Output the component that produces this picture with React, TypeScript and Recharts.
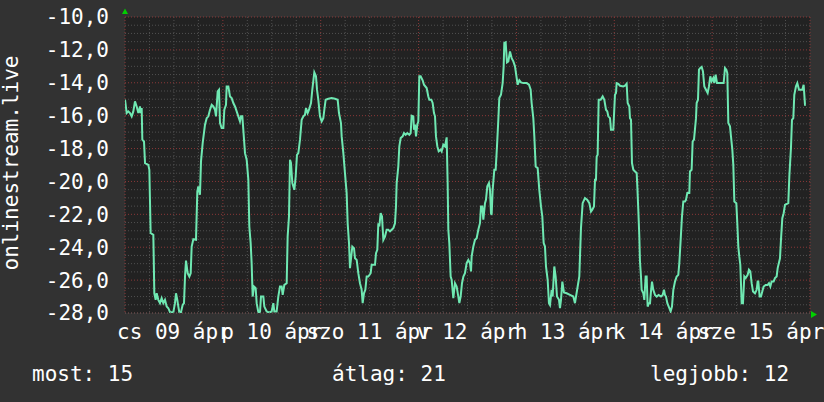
import React from 'react';
import { LineChart, Line, XAxis, YAxis, CartesianGrid } from 'recharts';

// time (hours since cs 09 ápr 00:00) and value
const seg1: [number, number][] = [
  [0.0, -15.03], [0.41, -15.84], [0.82, -15.74], [1.23, -15.84], [1.64, -16.04], [2.04, -15.74], [2.45, -15.13], [2.86, -15.44],
  [3.27, -15.84], [3.68, -15.44], [3.84, -15.84], [4.09, -15.54], [4.25, -17.46], [4.66, -17.57], [4.91, -18.88], [5.72, -18.99],
  [5.97, -19.29], [6.29, -23.14], [6.95, -23.25], [7.19, -26.8], [7.52, -27.2], [7.77, -26.8], [8.17, -27.2], [8.58, -27.4],
  [8.99, -27.1], [9.4, -27.4], [9.81, -27.2], [10.22, -27.61], [10.63, -27.71], [11.04, -27.95], [11.85, -27.95], [12.26, -27.4],
  [12.51, -26.8], [12.83, -27.2], [13.08, -27.61], [13.32, -27.95], [13.73, -27.95], [14.14, -27.51], [14.47, -27.4], [14.72, -25.78],
  [14.96, -24.81], [15.37, -25.58], [15.78, -25.78], [16.11, -25.58], [16.35, -23.96], [16.76, -23.51], [17.41, -23.55], [17.74, -20.61],
  [17.98, -20.3], [18.39, -20.81], [18.64, -18.78], [19.05, -17.67], [19.62, -16.55], [20.03, -16.15], [20.44, -16.04], [20.85, -15.64],
  [21.26, -15.34], [21.66, -15.44], [22.07, -15.64], [22.32, -16.04], [22.73, -14.52], [23.05, -14.42], [23.3, -16.45], [23.71, -16.75],
  [24.12, -16.75], [24.36, -15.64], [24.77, -15.34], [24.93, -14.22], [25.34, -14.22], [25.75, -14.83], [26.16, -14.93], [26.57, -15.23],
];
const seg2: [number, number][] = [
  [26.98, -15.44], [27.39, -15.74], [27.79, -16.04], [28.2, -16.35], [28.45, -16.04], [28.78, -16.04], [29.02, -16.86], [29.43, -18.28],
  [29.84, -18.68], [30.25, -19.9], [30.49, -22.74], [30.82, -23.75], [31.06, -24.97], [31.31, -27.0], [31.64, -26.39], [32.05, -26.49],
  [32.29, -27.4], [32.7, -27.95], [33.11, -27.95], [33.35, -27.0], [33.93, -27.0], [34.17, -27.61], [34.74, -27.91], [35.15, -27.95],
  [35.56, -27.95], [35.97, -27.91], [36.38, -27.4], [36.62, -27.91], [37.19, -27.91], [37.6, -27.0], [38.01, -26.39], [38.42, -26.39],
  [38.67, -26.9], [39.08, -26.29], [39.65, -26.19], [39.89, -23.35], [40.22, -22.13], [40.47, -18.68], [40.71, -18.88], [41.04, -20.1],
  [41.53, -20.51], [41.86, -19.7], [42.18, -18.38], [42.51, -18.28], [42.92, -17.46], [43.33, -16.25], [43.74, -16.04], [44.14, -15.94],
  [44.39, -15.54], [44.8, -15.84], [45.13, -15.64], [45.62, -15.23], [45.94, -14.42], [46.43, -13.37], [46.84, -13.61], [47.09, -14.42],
  [47.41, -15.03], [47.82, -16.04], [48.23, -16.35], [48.64, -16.15], [48.89, -15.64], [49.21, -15.03], [49.87, -14.97], [50.68, -14.93],
  [51.5, -14.97], [52.16, -15.03], [52.48, -15.84], [52.97, -16.45], [53.14, -17.26], [53.55, -18.28], [53.95, -19.49], [54.36, -20.71],
  [54.61, -22.54], [54.94, -23.75], [55.18, -25.27],
];
const seg3: [number, number][] = [
  [55.75, -23.96], [56.16, -24.06], [56.41, -24.67], [56.82, -24.77], [57.22, -25.58], [57.63, -26.19], [58.04, -26.59], [58.29, -27.4],
  [58.61, -26.8], [58.94, -26.59], [59.27, -25.78], [59.68, -25.78], [60.25, -25.58], [60.49, -25.07], [61.31, -25.07], [61.56, -24.36],
  [61.88, -24.16], [62.13, -22.54], [62.37, -22.74], [62.7, -21.93], [63.03, -22.13], [63.36, -23.55], [63.76, -23.35], [64.17, -22.94],
  [64.58, -22.94], [64.99, -23.04], [65.4, -22.94], [65.81, -22.84], [66.22, -22.54], [66.46, -21.52], [66.63, -20.1], [67.03, -19.09],
  [67.28, -17.87], [67.61, -17.36], [68.1, -17.26], [68.42, -17.06], [68.83, -17.16], [69.24, -17.06], [69.73, -17.16], [70.06, -17.06],
  [70.3, -16.0], [70.71, -16.04], [70.88, -16.86], [71.12, -16.55], [71.37, -17.26], [71.69, -16.55], [71.94, -16.35], [72.18, -13.61],
  [72.51, -13.61], [73.0, -13.85], [73.33, -14.12], [73.98, -14.32], [74.39, -14.83], [74.64, -15.03], [75.13, -15.03], [75.45, -15.23],
  [75.78, -15.84], [76.03, -16.04], [76.27, -17.26], [76.6, -17.87], [76.93, -18.17], [77.42, -18.07], [77.66, -18.17], [78.07, -17.77],
  [78.48, -17.87], [78.89, -17.32], [79.13, -20.1], [79.3, -22.94], [79.54, -23.75], [79.87, -25.78], [80.11, -25.98], [80.52, -27.1],
  [80.93, -26.19], [81.34, -26.39], [81.75, -27.0], [82.0, -27.4], [82.32, -27.0], [82.65, -26.19], [82.99, -25.78], [83.38, -25.58],
];
const seg4: [number, number][] = [
  [83.79, -24.97], [84.2, -24.77], [84.61, -24.97], [84.86, -25.47], [85.02, -24.56], [85.43, -23.96], [85.84, -23.55], [86.25, -23.45],
  [86.65, -22.94], [87.06, -22.54], [87.31, -21.52], [87.63, -21.52], [87.88, -22.33], [88.29, -21.32], [88.53, -21.12], [88.86, -20.3],
  [89.27, -20.1], [89.52, -20.51], [89.76, -21.93], [89.92, -22.03], [90.17, -20.51], [90.58, -19.29], [90.91, -19.29], [91.23, -17.87],
  [91.56, -16.25], [91.8, -14.93], [92.21, -14.73], [92.62, -14.02], [92.87, -13.0], [93.03, -11.58], [93.36, -11.54], [93.68, -12.76],
  [94.01, -12.7], [94.42, -12.09], [94.83, -12.5], [95.24, -12.7], [95.65, -13.0], [96.06, -13.71], [96.3, -14.12], [96.71, -13.85],
  [97.12, -13.98], [97.69, -14.02], [98.51, -14.02], [99.08, -14.12], [99.49, -14.42], [99.73, -15.23], [100.14, -16.15], [100.39, -17.26],
  [100.72, -19.09], [101.21, -19.19], [101.61, -20.51], [102.02, -21.52], [102.35, -22.13], [102.68, -23.75], [103.0, -23.96], [103.25, -25.17],
  [103.66, -25.98], [103.98, -27.4], [104.23, -27.51], [104.64, -26.59], [104.88, -27.0], [105.29, -25.17], [105.62, -25.78], [105.95, -27.0],
  [106.44, -27.2], [106.68, -27.71], [106.93, -27.2], [107.26, -26.09], [107.66, -26.75], [108.32, -26.8], [109.13, -26.9], [109.95, -27.0],
  [110.36, -27.4], [110.61, -27.0], [111.02, -26.39], [111.42, -25.78],
];
const seg5: [number, number][] = [
  [111.83, -22.84], [112.24, -21.32], [112.81, -21.01], [113.39, -21.12], [113.88, -21.32], [114.29, -21.83], [114.61, -21.72], [115.02, -21.52],
  [115.27, -19.9], [115.51, -19.9], [115.68, -18.48], [115.92, -18.38], [116.17, -15.03], [116.66, -15.03], [117.15, -14.83], [117.56, -15.03],
  [117.96, -15.64], [118.29, -15.74], [118.54, -16.04], [118.95, -16.15], [119.19, -16.86], [119.76, -16.86], [120.17, -14.73], [120.42, -14.62],
  [120.58, -14.02], [120.99, -14.06], [121.4, -14.18], [122.22, -14.22], [122.62, -14.18], [123.03, -14.06], [123.28, -15.23], [123.69, -15.44],
  [123.85, -16.15], [124.1, -16.25], [124.34, -18.88], [124.67, -19.29], [125.08, -19.39], [125.49, -19.49], [125.65, -20.3], [125.89, -21.72],
  [126.14, -23.35], [126.3, -24.87], [126.55, -25.78], [126.71, -26.59], [127.12, -26.8], [127.37, -27.2], [127.69, -25.78], [127.94, -25.78],
  [128.18, -27.61], [128.51, -27.4], [128.76, -27.4], [129.0, -26.69], [129.25, -26.09], [129.57, -26.59], [129.98, -26.9], [130.39, -27.0],
  [130.88, -26.9], [131.45, -27.0], [131.86, -26.9], [132.19, -26.59], [132.43, -26.9], [132.68, -27.0], [133.01, -27.4], [133.5, -27.71],
  [133.82, -27.91], [134.15, -27.61], [134.48, -26.59], [134.89, -26.09], [135.3, -25.78], [135.7, -25.68], [135.95, -24.97], [136.28, -23.55],
  [136.6, -22.13], [136.93, -21.22], [137.34, -21.22], [137.58, -21.12], [137.91, -20.71], [138.4, -20.71], [138.56, -19.39], [138.97, -19.29],
  [139.22, -17.57], [139.55, -17.46],
];
const seg6: [number, number][] = [
  [140.04, -16.15], [140.2, -15.23], [140.53, -15.03], [140.77, -13.2], [141.1, -13.1], [141.43, -13.04], [141.75, -13.31], [142.08, -14.22],
  [142.49, -14.42], [142.9, -14.62], [143.22, -14.22], [143.55, -13.61], [143.88, -13.91], [144.29, -13.71], [144.53, -14.02], [144.86, -13.51],
  [145.19, -14.02], [146.82, -14.02], [147.15, -13.1], [147.48, -13.2], [147.72, -13.41], [147.97, -16.45], [148.38, -16.65], [148.62, -17.26],
  [148.95, -18.07], [149.19, -18.99], [149.44, -21.22], [149.93, -21.32], [150.17, -22.54], [150.42, -23.96], [150.66, -24.56], [150.91, -25.07],
  [151.24, -27.4], [151.56, -27.4], [151.89, -25.78], [152.22, -25.88], [152.71, -25.68], [153.03, -25.37], [153.36, -25.47], [153.69, -26.19],
  [154.02, -26.69], [154.51, -26.8], [154.92, -26.59], [155.16, -26.09], [155.32, -26.09], [155.65, -27.0], [155.98, -27.0], [156.3, -26.69],
  [156.63, -26.39], [157.12, -26.29], [157.61, -26.29], [157.94, -26.19], [158.27, -26.39], [158.59, -26.09], [159.08, -26.09], [159.41, -25.88],
  [159.82, -25.78], [160.07, -25.27], [160.64, -24.67], [160.88, -23.55], [161.21, -22.23], [161.54, -21.93], [161.86, -21.42], [162.68, -21.32],
  [162.93, -19.7], [163.33, -17.97], [163.58, -16.25], [163.91, -16.15], [164.15, -14.73], [164.56, -14.22], [164.89, -14.02], [165.3, -14.42],
  [166.11, -14.42], [166.44, -14.12], [166.77, -15.33], [167.01, -15.33],
];

const xTicks = [12, 36, 60, 84, 108, 132, 156];
const xLabels = ['cs 09 ápr', 'p 10 ápr', 'szo 11 ápr', 'v 12 ápr', 'h 13 ápr', 'k 14 ápr', 'sze 15 ápr'];
const yTicks = [-28, -26, -24, -22, -20, -18, -16, -14, -12, -10];
const xMajor = [0, 24, 48, 72, 96, 120, 144, 168];
const yTitle = 'onlinestream.live';
const footer = [
  { label: 'most: 15', x: 32 },
  { label: 'átlag: 21', x: 332 },
  { label: 'legjobb: 12', x: 650 },
];

const xMinor: number[] = [];
for (let h = 6; h < 168; h += 6) if (h % 24 !== 0) xMinor.push(h);
const yMinor: number[] = [];
for (let v = -27.5; v < -10; v += 0.5) if (Math.abs(v % 2) !== 0) yMinor.push(v);

const data = [...seg1, ...seg2, ...seg3, ...seg4, ...seg5, ...seg6].map(([h, v]) => ({ h, v }));

const FONT = "'DejaVu Sans Mono', monospace";
const W = 824;
const H = 402;

export default function App() {
  return (
    <div style={{ position: 'absolute', left: 0, top: 0, width: W, height: H, background: '#323232' }}>
      <LineChart width={W} height={H} data={data} margin={{ top: 17, right: 14, bottom: 59, left: 0 }}>
        <CartesianGrid
          fill="#222222"
          stroke="#505050"
          strokeDasharray="1 2"
          horizontalValues={yMinor}
          verticalValues={xMinor}
        />
        <CartesianGrid
          fill="none"
          stroke="#8a3838"
          strokeDasharray="1 2"
          horizontalValues={yTicks}
          verticalValues={xMajor}
        />
        <XAxis
          dataKey="h"
          type="number"
          domain={[0, 168]}
          ticks={xTicks}
          interval={0}
          allowDataOverflow
          height={30}
          tickLine={false}
          tickSize={0}
          tickMargin={11}
          axisLine={{ stroke: '#555555', strokeDasharray: '1 2' }}
          tickFormatter={(v: number) => xLabels[xTicks.indexOf(v)] ?? ''}
          tick={{ fill: '#ffffff', fontSize: 21, fontFamily: FONT }}
        />
        <YAxis
          type="number"
          domain={[-28, -10]}
          ticks={yTicks}
          interval={0}
          allowDataOverflow
          width={125}
          tickLine={false}
          tickSize={0}
          tickMargin={16}
          axisLine={false}
          tickFormatter={(v: number) => v.toFixed(1).replace('.', ',')}
          tick={{ fill: '#ffffff', fontSize: 21, fontFamily: FONT }}
        />
        <Line
          type="linear"
          dataKey="v"
          stroke="#6fe8b2"
          strokeWidth={2}
          dot={false}
          activeDot={false}
          isAnimationActive={false}
        />
      </LineChart>
      <svg width={W} height={H} style={{ position: 'absolute', left: 0, top: 0, pointerEvents: 'none' }}>
        <text
          x={18}
          y={163}
          transform="rotate(-90 18 163)"
          textAnchor="middle"
          fill="#ffffff"
          fontSize={21}
          fontFamily={FONT}
        >
          {yTitle}
        </text>
        <polygon points="122,14 128,14 125,8.5" fill="#00d000" />
        <polygon points="811,311 811,318 817,314.5" fill="#00d000" />
        {footer.map((f) => (
          <text key={f.label} x={f.x} y={381} fill="#ffffff" fontSize={21} fontFamily={FONT}>
            {f.label}
          </text>
        ))}
      </svg>
    </div>
  );
}
